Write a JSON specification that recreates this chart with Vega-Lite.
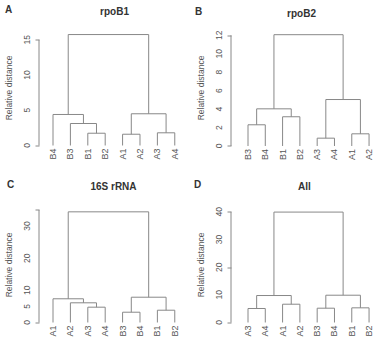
{
  "$schema": "https://vega.github.io/schema/vega-lite/v6.json",
  "background": "white",
  "padding": {"left": 4, "top": 4.5, "right": 0, "bottom": 0},
  "columns": 2,
  "spacing": {"column": 14, "row": 19},
  "config": {
    "view": {"stroke": null},
    "font": "Liberation Sans",
    "title": {"fontSize": 10, "fontWeight": "bold", "color": "#333333", "offset": -12, "font": "Liberation Sans"},
    "axis": {"grid": false, "domain": false, "ticks": true, "labels": false, "tickSize": 4, "tickColor": "#888888", "tickWidth": 1, "titleFont": "Liberation Sans", "titleFontSize": 8.5, "titleFontWeight": "normal", "titleColor": "#555555"},
    "axisY": {"titlePadding": 21},
    "rule": {"color": "#888888", "strokeWidth": 1},
    "text": {"font": "Liberation Sans", "color": "#555555"}
  },
  "datasets": {
    "merges": [
      {"panel": "A", "xl": 3, "xr": 4, "h": 1.74, "hl": 0, "hr": 0},
      {"panel": "A", "xl": 2, "xr": 3.5, "h": 3.12, "hl": 0, "hr": 1.74},
      {"panel": "A", "xl": 1, "xr": 2.75, "h": 4.4, "hl": 0, "hr": 3.12},
      {"panel": "A", "xl": 5, "xr": 6, "h": 1.6, "hl": 0, "hr": 0},
      {"panel": "A", "xl": 7, "xr": 8, "h": 1.8, "hl": 0, "hr": 0},
      {"panel": "A", "xl": 5.5, "xr": 7.5, "h": 4.5, "hl": 1.6, "hr": 1.8},
      {"panel": "A", "xl": 1.875, "xr": 6.5, "h": 15.74, "hl": 4.4, "hr": 4.5},
      {"panel": "B", "xl": 1, "xr": 2, "h": 2.3, "hl": 0, "hr": 0},
      {"panel": "B", "xl": 3, "xr": 4, "h": 3.17, "hl": 0, "hr": 0},
      {"panel": "B", "xl": 1.5, "xr": 3.5, "h": 4.03, "hl": 2.3, "hr": 3.17},
      {"panel": "B", "xl": 5, "xr": 6, "h": 0.85, "hl": 0, "hr": 0},
      {"panel": "B", "xl": 7, "xr": 8, "h": 1.32, "hl": 0, "hr": 0},
      {"panel": "B", "xl": 5.5, "xr": 7.5, "h": 5.04, "hl": 0.85, "hr": 1.32},
      {"panel": "B", "xl": 2.5, "xr": 6.5, "h": 12.07, "hl": 4.03, "hr": 5.04},
      {"panel": "C", "xl": 3, "xr": 4, "h": 4.76, "hl": 0, "hr": 0},
      {"panel": "C", "xl": 2, "xr": 3.5, "h": 6.12, "hl": 0, "hr": 4.76},
      {"panel": "C", "xl": 1, "xr": 2.75, "h": 7.37, "hl": 0, "hr": 6.12},
      {"panel": "C", "xl": 5, "xr": 6, "h": 3.2, "hl": 0, "hr": 0},
      {"panel": "C", "xl": 7, "xr": 8, "h": 3.82, "hl": 0, "hr": 0},
      {"panel": "C", "xl": 5.5, "xr": 7.5, "h": 7.86, "hl": 3.2, "hr": 3.82},
      {"panel": "C", "xl": 1.875, "xr": 6.5, "h": 34.4, "hl": 7.37, "hr": 7.86},
      {"panel": "D", "xl": 1, "xr": 2, "h": 5.06, "hl": 0, "hr": 0},
      {"panel": "D", "xl": 3, "xr": 4, "h": 6.61, "hl": 0, "hr": 0},
      {"panel": "D", "xl": 1.5, "xr": 3.5, "h": 9.75, "hl": 5.06, "hr": 6.61},
      {"panel": "D", "xl": 5, "xr": 6, "h": 5.17, "hl": 0, "hr": 0},
      {"panel": "D", "xl": 7, "xr": 8, "h": 5.3, "hl": 0, "hr": 0},
      {"panel": "D", "xl": 5.5, "xr": 7.5, "h": 9.86, "hl": 5.17, "hr": 5.3},
      {"panel": "D", "xl": 2.5, "xr": 6.5, "h": 39.9, "hl": 9.75, "hr": 9.86}
    ],
    "leaves": [
      {"panel": "A", "pos": 1, "name": "B4"}, {"panel": "A", "pos": 2, "name": "B3"},
      {"panel": "A", "pos": 3, "name": "B1"}, {"panel": "A", "pos": 4, "name": "B2"},
      {"panel": "A", "pos": 5, "name": "A1"}, {"panel": "A", "pos": 6, "name": "A2"},
      {"panel": "A", "pos": 7, "name": "A3"}, {"panel": "A", "pos": 8, "name": "A4"},
      {"panel": "B", "pos": 1, "name": "B3"}, {"panel": "B", "pos": 2, "name": "B4"},
      {"panel": "B", "pos": 3, "name": "B1"}, {"panel": "B", "pos": 4, "name": "B2"},
      {"panel": "B", "pos": 5, "name": "A3"}, {"panel": "B", "pos": 6, "name": "A4"},
      {"panel": "B", "pos": 7, "name": "A1"}, {"panel": "B", "pos": 8, "name": "A2"},
      {"panel": "C", "pos": 1, "name": "A1"}, {"panel": "C", "pos": 2, "name": "A2"},
      {"panel": "C", "pos": 3, "name": "A3"}, {"panel": "C", "pos": 4, "name": "A4"},
      {"panel": "C", "pos": 5, "name": "B3"}, {"panel": "C", "pos": 6, "name": "B4"},
      {"panel": "C", "pos": 7, "name": "B1"}, {"panel": "C", "pos": 8, "name": "B2"},
      {"panel": "D", "pos": 1, "name": "A3"}, {"panel": "D", "pos": 2, "name": "A4"},
      {"panel": "D", "pos": 3, "name": "A1"}, {"panel": "D", "pos": 4, "name": "A2"},
      {"panel": "D", "pos": 5, "name": "B3"}, {"panel": "D", "pos": 6, "name": "B4"},
      {"panel": "D", "pos": 7, "name": "B1"}, {"panel": "D", "pos": 8, "name": "B2"}
    ],
    "axisSpan": [
      {"panel": "A", "lo": 0, "hi": 15},
      {"panel": "B", "lo": 0, "hi": 12},
      {"panel": "C", "lo": 0, "hi": 35},
      {"panel": "D", "lo": 0, "hi": 40}
    ],
    "tickLabels": [
      {"panel": "A", "value": 0}, {"panel": "A", "value": 5}, {"panel": "A", "value": 10}, {"panel": "A", "value": 15},
      {"panel": "B", "value": 0}, {"panel": "B", "value": 2}, {"panel": "B", "value": 4}, {"panel": "B", "value": 6},
      {"panel": "B", "value": 8}, {"panel": "B", "value": 10}, {"panel": "B", "value": 12},
      {"panel": "C", "value": 0}, {"panel": "C", "value": 5}, {"panel": "C", "value": 10}, {"panel": "C", "value": 20}, {"panel": "C", "value": 30},
      {"panel": "D", "value": 0}, {"panel": "D", "value": 10}, {"panel": "D", "value": 20}, {"panel": "D", "value": 30}, {"panel": "D", "value": 40}
    ]
  },
  "concat": [
    {
      "width": 141, "height": 120,
      "title": {"text": "rpoB1", "dx": 5},
      "layer": [
        {"data": {"name": "merges"}, "transform": [{"filter": "datum.panel === 'A'"}], "mark": "rule",
         "encoding": {
           "x": {"field": "xl", "type": "quantitative", "scale": {"domain": [0.195, 8.3], "nice": false, "zero": false}, "axis": null},
           "x2": {"field": "xr"},
           "y": {"field": "h", "type": "quantitative", "title": "Relative distance", "scale": {"domain": [-0.284, 16.74], "nice": false, "zero": false},
                 "axis": {"values": [0, 5, 10, 15]}}}},
        {"data": {"name": "merges"}, "transform": [{"filter": "datum.panel === 'A'"}], "mark": "rule",
         "encoding": {"x": {"field": "xl", "type": "quantitative", "axis": null}, "y": {"field": "hl", "type": "quantitative", "title": "Relative distance"}, "y2": {"field": "h"}}},
        {"data": {"name": "merges"}, "transform": [{"filter": "datum.panel === 'A'"}], "mark": "rule",
         "encoding": {"x": {"field": "xr", "type": "quantitative", "axis": null}, "y": {"field": "hr", "type": "quantitative", "title": "Relative distance"}, "y2": {"field": "h"}}},
        {"data": {"name": "axisSpan"}, "transform": [{"filter": "datum.panel === 'A'"}], "mark": "rule",
         "encoding": {"x": {"datum": 0.195, "type": "quantitative", "axis": null}, "y": {"field": "lo", "type": "quantitative", "title": "Relative distance"}, "y2": {"field": "hi"}}},
        {"data": {"name": "tickLabels"}, "transform": [{"filter": "datum.panel === 'A'"}],
         "mark": {"type": "text", "angle": 270, "align": "center", "baseline": "bottom", "dy": -7, "fontSize": 8.5},
         "encoding": {"x": {"datum": 0.195, "type": "quantitative", "axis": null}, "y": {"field": "value", "type": "quantitative", "title": "Relative distance"}, "text": {"field": "value", "type": "quantitative"}}},
        {"data": {"name": "leaves"}, "transform": [{"filter": "datum.panel === 'A'"}],
         "mark": {"type": "text", "angle": 270, "align": "right", "baseline": "middle", "dx": -3, "fontSize": 9},
         "encoding": {"x": {"field": "pos", "type": "quantitative", "axis": null}, "y": {"datum": 0, "type": "quantitative", "title": "Relative distance"}, "text": {"field": "name"}}},
        {"data": {"values": [{"letter": "A"}]},
         "mark": {"type": "text", "align": "left", "baseline": "middle", "dx": -34, "dy": -17.5, "fontSize": 10, "fontWeight": "bold", "color": "#333333"},
         "encoding": {"x": {"datum": 0.195, "type": "quantitative", "axis": null}, "y": {"datum": 16.74, "type": "quantitative", "title": "Relative distance"}, "text": {"field": "letter"}}}
      ]
    },
    {
      "width": 141, "height": 120,
      "title": {"text": "rpoB2", "dx": 0},
      "layer": [
        {"data": {"name": "merges"}, "transform": [{"filter": "datum.panel === 'B'"}], "mark": "rule",
         "encoding": {
           "x": {"field": "xl", "type": "quantitative", "scale": {"domain": [0.017, 8.17], "nice": false, "zero": false}, "axis": null},
           "x2": {"field": "xr"},
           "y": {"field": "h", "type": "quantitative", "title": "Relative distance", "scale": {"domain": [-0.163, 12.85], "nice": false, "zero": false},
                 "axis": {"values": [0, 2, 4, 6, 8, 10, 12]}}}},
        {"data": {"name": "merges"}, "transform": [{"filter": "datum.panel === 'B'"}], "mark": "rule",
         "encoding": {"x": {"field": "xl", "type": "quantitative", "axis": null}, "y": {"field": "hl", "type": "quantitative", "title": "Relative distance"}, "y2": {"field": "h"}}},
        {"data": {"name": "merges"}, "transform": [{"filter": "datum.panel === 'B'"}], "mark": "rule",
         "encoding": {"x": {"field": "xr", "type": "quantitative", "axis": null}, "y": {"field": "hr", "type": "quantitative", "title": "Relative distance"}, "y2": {"field": "h"}}},
        {"data": {"name": "axisSpan"}, "transform": [{"filter": "datum.panel === 'B'"}], "mark": "rule",
         "encoding": {"x": {"datum": 0.017, "type": "quantitative", "axis": null}, "y": {"field": "lo", "type": "quantitative", "title": "Relative distance"}, "y2": {"field": "hi"}}},
        {"data": {"name": "tickLabels"}, "transform": [{"filter": "datum.panel === 'B'"}],
         "mark": {"type": "text", "angle": 270, "align": "center", "baseline": "bottom", "dy": -7, "fontSize": 8.5},
         "encoding": {"x": {"datum": 0.017, "type": "quantitative", "axis": null}, "y": {"field": "value", "type": "quantitative", "title": "Relative distance"}, "text": {"field": "value", "type": "quantitative"}}},
        {"data": {"name": "leaves"}, "transform": [{"filter": "datum.panel === 'B'"}],
         "mark": {"type": "text", "angle": 270, "align": "right", "baseline": "middle", "dx": -3, "fontSize": 9},
         "encoding": {"x": {"field": "pos", "type": "quantitative", "axis": null}, "y": {"datum": 0, "type": "quantitative", "title": "Relative distance"}, "text": {"field": "name"}}},
        {"data": {"values": [{"letter": "B"}]},
         "mark": {"type": "text", "align": "left", "baseline": "middle", "dx": -36, "dy": -16, "fontSize": 10, "fontWeight": "bold", "color": "#333333"},
         "encoding": {"x": {"datum": 0.017, "type": "quantitative", "axis": null}, "y": {"datum": 12.85, "type": "quantitative", "title": "Relative distance"}, "text": {"field": "letter"}}}
      ]
    },
    {
      "width": 141, "height": 120,
      "title": {"text": "16S rRNA", "dx": 4},
      "layer": [
        {"data": {"name": "merges"}, "transform": [{"filter": "datum.panel === 'C'"}], "mark": "rule",
         "encoding": {
           "x": {"field": "xl", "type": "quantitative", "scale": {"domain": [0.195, 8.3], "nice": false, "zero": false}, "axis": null},
           "x2": {"field": "xr"},
           "y": {"field": "h", "type": "quantitative", "title": "Relative distance", "scale": {"domain": [-0.622, 36.68], "nice": false, "zero": false},
                 "axis": {"values": [0, 5, 10, 15, 20, 25, 30, 35]}}}},
        {"data": {"name": "merges"}, "transform": [{"filter": "datum.panel === 'C'"}], "mark": "rule",
         "encoding": {"x": {"field": "xl", "type": "quantitative", "axis": null}, "y": {"field": "hl", "type": "quantitative", "title": "Relative distance"}, "y2": {"field": "h"}}},
        {"data": {"name": "merges"}, "transform": [{"filter": "datum.panel === 'C'"}], "mark": "rule",
         "encoding": {"x": {"field": "xr", "type": "quantitative", "axis": null}, "y": {"field": "hr", "type": "quantitative", "title": "Relative distance"}, "y2": {"field": "h"}}},
        {"data": {"name": "axisSpan"}, "transform": [{"filter": "datum.panel === 'C'"}], "mark": "rule",
         "encoding": {"x": {"datum": 0.195, "type": "quantitative", "axis": null}, "y": {"field": "lo", "type": "quantitative", "title": "Relative distance"}, "y2": {"field": "hi"}}},
        {"data": {"name": "tickLabels"}, "transform": [{"filter": "datum.panel === 'C'"}],
         "mark": {"type": "text", "angle": 270, "align": "center", "baseline": "bottom", "dy": -7, "fontSize": 8.5},
         "encoding": {"x": {"datum": 0.195, "type": "quantitative", "axis": null}, "y": {"field": "value", "type": "quantitative", "title": "Relative distance"}, "text": {"field": "value", "type": "quantitative"}}},
        {"data": {"name": "leaves"}, "transform": [{"filter": "datum.panel === 'C'"}],
         "mark": {"type": "text", "angle": 270, "align": "right", "baseline": "middle", "dx": -3, "fontSize": 9},
         "encoding": {"x": {"field": "pos", "type": "quantitative", "axis": null}, "y": {"datum": 0, "type": "quantitative", "title": "Relative distance"}, "text": {"field": "name"}}},
        {"data": {"values": [{"letter": "C"}]},
         "mark": {"type": "text", "align": "left", "baseline": "middle", "dx": -32, "dy": -20, "fontSize": 10, "fontWeight": "bold", "color": "#333333"},
         "encoding": {"x": {"datum": 0.195, "type": "quantitative", "axis": null}, "y": {"datum": 36.68, "type": "quantitative", "title": "Relative distance"}, "text": {"field": "letter"}}}
      ]
    },
    {
      "width": 141, "height": 120,
      "title": {"text": "All", "dx": 3},
      "layer": [
        {"data": {"name": "merges"}, "transform": [{"filter": "datum.panel === 'D'"}], "mark": "rule",
         "encoding": {
           "x": {"field": "xl", "type": "quantitative", "scale": {"domain": [0.017, 8.17], "nice": false, "zero": false}, "axis": null},
           "x2": {"field": "xr"},
           "y": {"field": "h", "type": "quantitative", "title": "Relative distance", "scale": {"domain": [-0.723, 42.64], "nice": false, "zero": false},
                 "axis": {"values": [0, 10, 20, 30, 40]}}}},
        {"data": {"name": "merges"}, "transform": [{"filter": "datum.panel === 'D'"}], "mark": "rule",
         "encoding": {"x": {"field": "xl", "type": "quantitative", "axis": null}, "y": {"field": "hl", "type": "quantitative", "title": "Relative distance"}, "y2": {"field": "h"}}},
        {"data": {"name": "merges"}, "transform": [{"filter": "datum.panel === 'D'"}], "mark": "rule",
         "encoding": {"x": {"field": "xr", "type": "quantitative", "axis": null}, "y": {"field": "hr", "type": "quantitative", "title": "Relative distance"}, "y2": {"field": "h"}}},
        {"data": {"name": "axisSpan"}, "transform": [{"filter": "datum.panel === 'D'"}], "mark": "rule",
         "encoding": {"x": {"datum": 0.017, "type": "quantitative", "axis": null}, "y": {"field": "lo", "type": "quantitative", "title": "Relative distance"}, "y2": {"field": "hi"}}},
        {"data": {"name": "tickLabels"}, "transform": [{"filter": "datum.panel === 'D'"}],
         "mark": {"type": "text", "angle": 270, "align": "center", "baseline": "bottom", "dy": -7, "fontSize": 8.5},
         "encoding": {"x": {"datum": 0.017, "type": "quantitative", "axis": null}, "y": {"field": "value", "type": "quantitative", "title": "Relative distance"}, "text": {"field": "value", "type": "quantitative"}}},
        {"data": {"name": "leaves"}, "transform": [{"filter": "datum.panel === 'D'"}],
         "mark": {"type": "text", "angle": 270, "align": "right", "baseline": "middle", "dx": -3, "fontSize": 9},
         "encoding": {"x": {"field": "pos", "type": "quantitative", "axis": null}, "y": {"datum": 0, "type": "quantitative", "title": "Relative distance"}, "text": {"field": "name"}}},
        {"data": {"values": [{"letter": "D"}]},
         "mark": {"type": "text", "align": "left", "baseline": "middle", "dx": -37, "dy": -19.5, "fontSize": 10, "fontWeight": "bold", "color": "#333333"},
         "encoding": {"x": {"datum": 0.017, "type": "quantitative", "axis": null}, "y": {"datum": 42.64, "type": "quantitative", "title": "Relative distance"}, "text": {"field": "letter"}}}
      ]
    }
  ]
}
